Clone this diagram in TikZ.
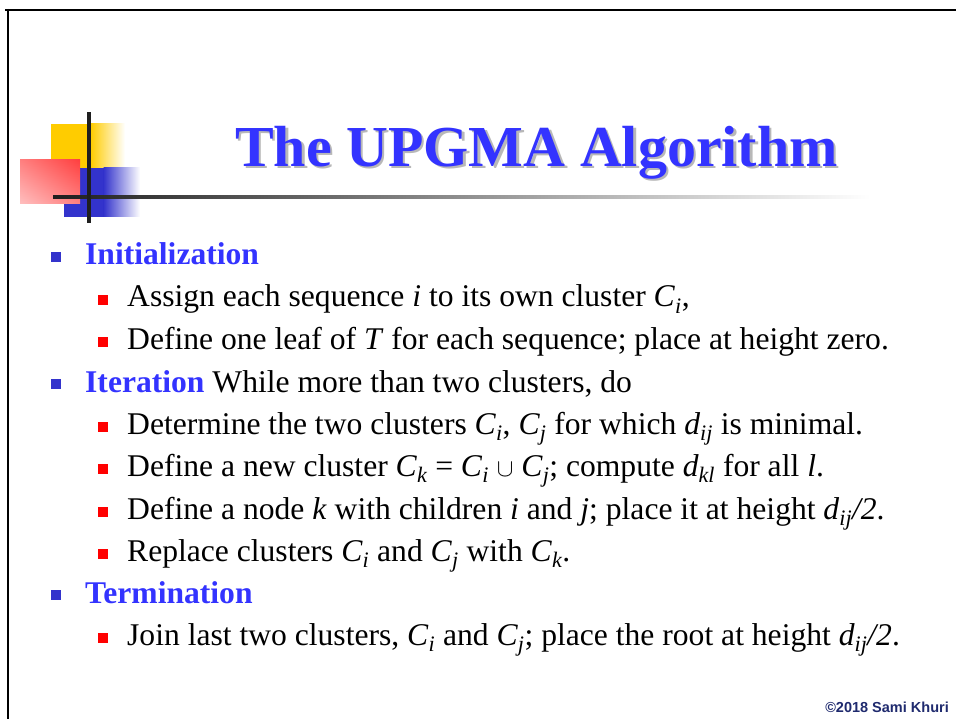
\documentclass[tikz,border=0pt]{standalone}
\usepackage{fontspec}
\setmainfont{Liberation Serif}
\newfontfamily\footfont{Liberation Sans}
\definecolor{headblue}{HTML}{3333FF}
\definecolor{markblue}{HTML}{3333CC}
\definecolor{markred}{HTML}{FF0000}
\definecolor{logoyellow}{HTML}{FFCC00}
\definecolor{footnavy}{HTML}{1F2A6E}
% red in the upper right corner, fading to white in the lower left one
\pgfdeclarefunctionalshading{redcorner}{\pgfpoint{-50bp}{-50bp}}{\pgfpoint{50bp}{50bp}}{}{add neg 100 add 200 div 1 exch dup}
\newcommand{\lowsub}[1]{\textsubscript{\itshape #1}}
\newcommand{\Cl}[1]{\textit{C}\lowsub{#1}}
\newcommand{\shadowed}[1]{\makebox[0pt][l]{\hspace{2.5pt}\raisebox{-2.5pt}{\color{black!28}#1}}#1}
\begin{document}
\begin{tikzpicture}[x=1pt,y=-1pt,
  frameline/.style={line width=2.6pt,black},
  bodytext/.style={anchor=base west,inner sep=0pt,font=\fontsize{31.6}{36}\selectfont},
  headtext/.style={bodytext,font=\fontsize{31.6}{36}\selectfont\bfseries,text=headblue},
  bulletone/.style={fill=markblue,minimum size=10.5pt,inner sep=0pt,draw=none},
  bullettwo/.style={fill=markred,minimum size=9.5pt,inner sep=0pt,draw=none}]
\useasboundingbox (0,0) rectangle (956,719);
% slide frame
\draw[frameline] (5,10) -- (956,10);
\draw[frameline] (8,9) -- (8,719);
% decorative logo
\fill[logoyellow] (51,124) rectangle (91,168);
\shade[left color=logoyellow,right color=white] (90.5,124) rectangle (125,168);
\fill[markblue] (64,168) rectangle (104,217);
\shade[left color=markblue,right color=white] (103.5,168) rectangle (140,217);
\shade[shading=redcorner] (20,160) rectangle (80,204);
\shade[left color=black!88,right color=white] (53,195.2) rectangle (870,198.8);
\fill[black!88] (87.3,112) rectangle (90.7,223);
% title with soft shadow
\node[text=headblue,font=\fontsize{58}{64}\selectfont\bfseries,anchor=base,inner sep=0pt] (title) at (536.5,166.5) {\shadowed{The UPGMA Algorithm}};
% first level items
\node[bulletone] (b1) at (56,257) {};
\node[headtext] (init) at (85,265) {Initialization};
\node[bulletone] (b2) at (56,384) {};
\node[bodytext] (iter) at (85,392) {\textbf{\color{headblue}Iteration} While more than two clusters, do};
\node[bulletone] (b3) at (56,595) {};
\node[headtext] (term) at (85,603) {Termination};
% second level items
\node[bullettwo] (r1) at (103,300) {};
\node[bodytext] (assign) at (127,307) {Assign each sequence \textit{i} to its own cluster \Cl{i},};
\node[bullettwo] (r2) at (103,342) {};
\node[bodytext] (leaf) at (127,349) {Define one leaf of \textit{T} for each sequence; place at height zero.};
\node[bullettwo] (r3) at (103,427) {};
\node[bodytext] (determine) at (127,434) {Determine the two clusters \Cl{i}, \Cl{j} for which \textit{d}\lowsub{ij} is minimal.};
\node[bullettwo] (r4) at (103,469) {};
\node[bodytext] (newcl) at (127,476) {Define a new cluster \Cl{k} = \Cl{i} $\cup$ \Cl{j}; compute \textit{d}\lowsub{kl} for all \textit{l}.};
\node[bullettwo] (r5) at (103,512) {};
\node[bodytext] (node) at (127,519) {Define a node \textit{k} with children \textit{i} and \textit{j}; place it at height \textit{d}\lowsub{ij}\textit{/2}.};
\node[bullettwo] (r6) at (103,554) {};
\node[bodytext] (replace) at (127,561) {Replace clusters \Cl{i} and \Cl{j} with \Cl{k}.};
\node[bullettwo] (r7) at (103,638) {};
\node[bodytext] (join) at (127,645) {Join last two clusters, \Cl{i} and \Cl{j}; place the root at height \textit{d}\lowsub{ij}\textit{/2}.};
% footer
\node[anchor=base east,inner sep=0pt,text=footnavy,font=\footfont\bfseries\fontsize{14.5}{16}\selectfont] (foot) at (949,712) {©2018 Sami Khuri};
\end{tikzpicture}
\end{document}
